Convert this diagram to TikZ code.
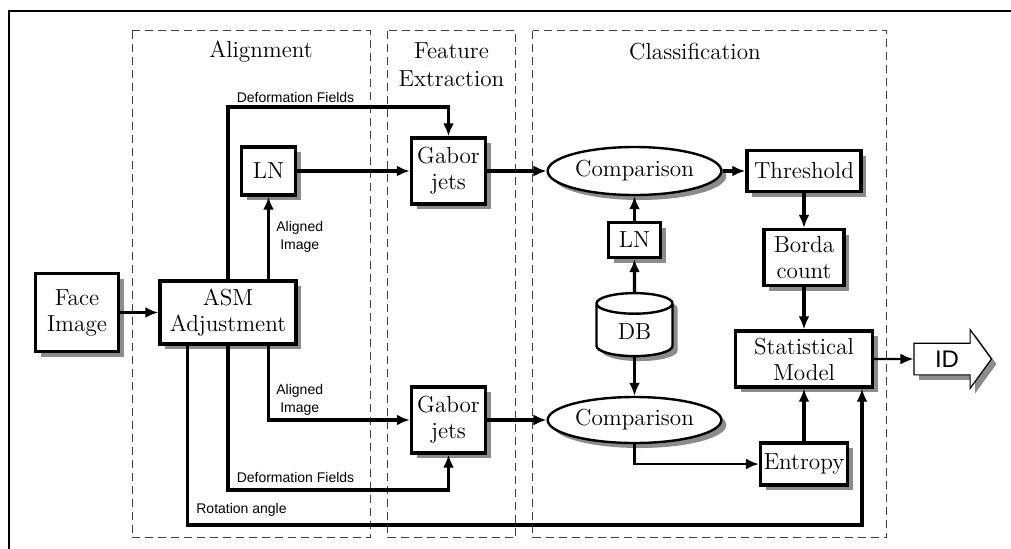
\documentclass[tikz,border=0pt]{standalone}
\usepackage{fontspec}
\newfontfamily\labelfont{Liberation Sans}
\usepackage{tikz}
\usetikzlibrary{arrows.meta}
\usetikzlibrary{shapes.geometric,shapes.arrows}
\usetikzlibrary{shadows}

\begin{document}
\begin{tikzpicture}[
	x=0.5pt, y=-0.5pt,
  > = {Latex[length=6.5pt,width=5.5pt]},
  shade/.style = {drop shadow={shadow xshift=2.5pt, shadow yshift=-2.5pt, fill=black!45, opacity=1}},
  block/.style = {draw, line width=1.7pt, fill=white, align=center, inner sep=1pt,
    font=\fontsize{11.6}{13}\selectfont, shade},
  oval/.style = {block, ellipse, line width=1.2pt, minimum width=74pt, minimum height=24pt},
  store/.style = {block, cylinder, shape border rotate=90, aspect=0.55, line width=1.2pt,
    minimum width=38pt, minimum height=31.5pt},
  phase/.style = {draw=black!75, line width=0.5pt, dash pattern=on 4pt off 2.5pt},
  title/.style = {font=\fontsize{11.6}{14}\selectfont, align=center, inner sep=0pt},
  lbl/.style = {font=\labelfont\fontsize{7}{9}\selectfont, align=center, inner sep=0.5pt},
  link/.style = {->, line width=1.6pt},
  thin link/.style = {->, line width=1.1pt}
  ]
	\useasboundingbox (0,0) rectangle (1011,548);
	\draw[line width=1pt] (9,560) -- (9,11) -- (1020,11);

	% stages
	\draw[phase] (132,30.5) rectangle (370,537.5);
	\draw[phase] (387.5,30.5) rectangle (515.5,537.5);
	\draw[phase] (532.5,30.5) rectangle (886.5,537.5);
	\node[title] (tAlign) at (261,52) {Alignment};
	\node[title] (tFeat) at (451.5,65) {Feature\\Extraction};
	\node[title] (tClass) at (695,52) {Classification};

	% blocks
	\node[block, minimum width=41.5pt, minimum height=39pt] (face) at (77,312.5) {Face\\Image};
	\node[block, minimum width=68pt, minimum height=31.5pt] (asm) at (228,312.5) {ASM\\Adjustment};
	\node[block, minimum width=27pt, minimum height=24pt] (lnA) at (268.5,171) {LN};
	\node[block, minimum width=37pt, minimum height=33pt] (gaborA) at (448.5,171) {Gabor\\jets};
	\node[block, minimum width=37pt, minimum height=33pt] (gaborB) at (448.5,420) {Gabor\\jets};
	\node[oval] (cmpA) at (634.5,171) {Comparison};
	\node[oval, minimum height=23pt] (cmpB) at (634.5,420) {Comparison};
	\node[block, minimum width=26pt, minimum height=17.5pt] (lnB) at (634.5,240) {LN};
	\node[store] (db) at (634.5,332) {DB};
	\node[block, minimum width=57pt, minimum height=20.5pt] (thresh) at (804,171) {Threshold};
	\node[block, minimum width=40pt, minimum height=28pt] (borda) at (804,257.5) {Borda\\count};
	\node[block, minimum width=68.5pt, minimum height=28pt] (stat) at (804,359) {Statistical\\Model};
	\node[block, minimum width=43.5pt, minimum height=21pt] (entropy) at (804,464) {Entropy};
	\node[draw, line width=0.6pt, fill=white, shade, single arrow, single arrow head extend=6.75pt,
		single arrow tip angle=108, minimum height=38.7pt, inner ysep=3.5pt, inner xsep=2pt,
		font=\labelfont\fontsize{12}{12}\selectfont] (id) at (947,359) {ID};

	\coordinate (@defA) at (228,107);
	\coordinate (@defB) at (448.5,490);
	\coordinate (@rot) at (187.5,525);
	\coordinate (@rotEnd) at (862,525);

	% connectors
	\draw[link] (face) -- (asm);
	\draw[link] (asm.north -| lnA) -- (lnA);
	\draw[link] (asm.north) -- (@defA) -| (gaborA.north);
	\draw[link] (lnA) -- (gaborA);
	\draw[link] (gaborA) -- (gaborA.east -| cmpA.west);
	\draw[link] (cmpA) -- (thresh);
	\draw[link] (thresh) -- (borda);
	\draw[link] (borda) -- (stat);
	\draw[link] (lnB) -- (cmpA);
	\draw[link] (db) -- (lnB);
	\draw[link] (db) -- (cmpB);
	\draw[link] (asm.south -| lnA) |- (gaborB);
	\draw[link] (asm.south) |- (@defB) -- (gaborB.south);
	\draw[link] (asm.south -| @rot) -- (@rot) -- (@rotEnd) -- (stat.south -| @rotEnd);
	\draw[link] (gaborB) -- (cmpB);
	\draw[thin link] (cmpB.south) |- (entropy);
	\draw[link] (entropy) -- (stat);
	\draw[thin link] (stat) -- (id);

	% labels
	\node[lbl] (lDefA) at (295.5,97) {Deformation Fields};
	\node[lbl, anchor=west] (lAlA) at (275,237) {Aligned\\Image};
	\node[lbl, anchor=west] (lAlB) at (275,400) {Aligned\\Image};
	\node[lbl] (lDefB) at (295.5,477.5) {Deformation Fields};
	\node[lbl] (lRot) at (241.5,510) {Rotation angle};

\end{tikzpicture}
\end{document}
